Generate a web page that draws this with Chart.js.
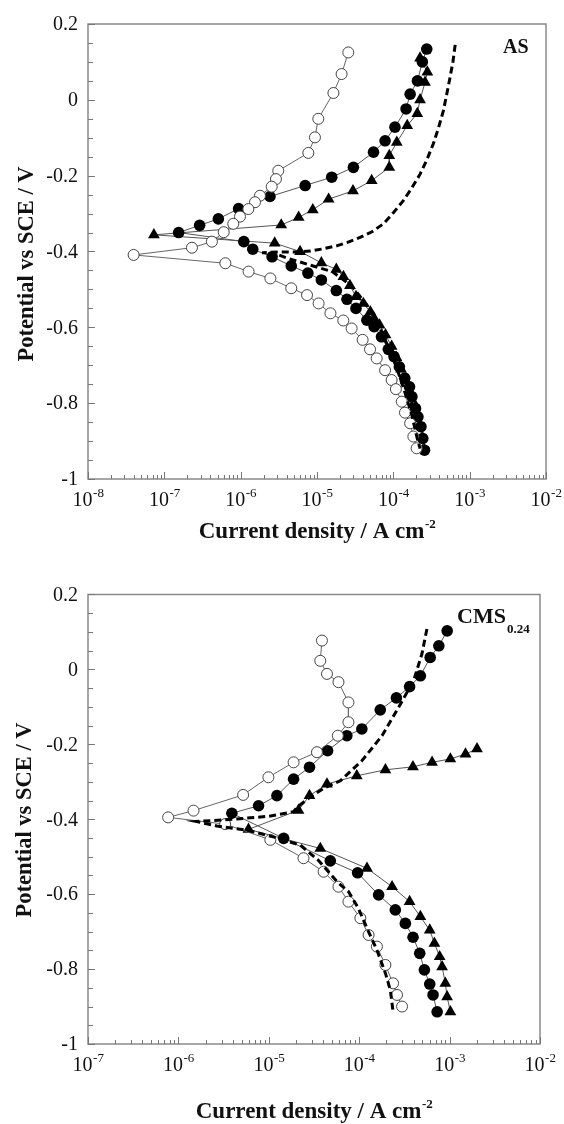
<!DOCTYPE html>
<html><head><meta charset="utf-8">
<script src="https://cdn.jsdelivr.net/npm/chart.js@4.4.1/dist/chart.umd.min.js"></script>
<style>
html,body{margin:0;padding:0;background:#fff;width:564px;height:1124px;overflow:hidden}
.wrap{position:absolute;left:0;width:564px;height:562px}
canvas{display:block}
</style></head><body>
<div class="wrap" style="top:0"><canvas id="c1" width="564" height="562"></canvas></div>
<div class="wrap" style="top:562px"><canvas id="c2" width="564" height="562"></canvas></div>
<script>
// ---------- DATA: [current density (A cm^-2), potential (V vs SCE)] ----------
// Panel 1: AS
const AS_OPEN = [[2.57e-5,0.125],[2.10e-5,0.068],[1.64e-5,0.018],[1.04e-5,-0.050],[9.4e-6,-0.099],[7.7e-6,-0.140],
 [3.11e-6,-0.187],[2.90e-6,-0.209],[2.55e-6,-0.229],[1.79e-6,-0.253],[1.54e-6,-0.270],[1.26e-6,-0.288],[9.8e-7,-0.308],
 [8.0e-7,-0.327],[6.0e-7,-0.349],[4.2e-7,-0.374],[2.30e-7,-0.390],[3.96e-8,-0.409],
 [6.3e-7,-0.431],[1.27e-6,-0.453],[2.45e-6,-0.471],[4.6e-6,-0.497],[7.4e-6,-0.515],[1.05e-5,-0.537],[1.50e-5,-0.563],
 [2.21e-5,-0.582],[2.84e-5,-0.603],[3.96e-5,-0.633],[4.95e-5,-0.658],[6.05e-5,-0.682],[7.8e-5,-0.713],[9.5e-5,-0.739],
 [1.08e-4,-0.763],[1.29e-4,-0.796],[1.42e-4,-0.825],[1.66e-4,-0.853],[1.83e-4,-0.888],[2.02e-4,-0.919]];
const AS_FILLED = [[2.74e-4,0.134],[2.40e-4,0.100],[2.07e-4,0.050],[1.66e-4,0.015],[1.47e-4,-0.024],[1.05e-4,-0.072],
 [7.8e-5,-0.108],[5.5e-5,-0.138],[3.0e-5,-0.178],[1.56e-5,-0.204],[7.0e-6,-0.226],[2.42e-6,-0.255],[9.4e-7,-0.287],
 [5.1e-7,-0.314],[2.9e-7,-0.331],[1.54e-7,-0.350],
 [1.10e-6,-0.374],[1.44e-6,-0.394],[2.58e-6,-0.414],[4.6e-6,-0.438],[7.6e-6,-0.457],[1.14e-5,-0.475],[1.79e-5,-0.503],
 [2.47e-5,-0.526],[3.24e-5,-0.550],[4.5e-5,-0.581],[5.6e-5,-0.598],[7.0e-5,-0.625],[8.6e-5,-0.658],[1.02e-4,-0.677],
 [1.20e-4,-0.704],[1.41e-4,-0.734],[1.63e-4,-0.757],[1.75e-4,-0.783],[1.95e-4,-0.814],[2.10e-4,-0.836],[2.30e-4,-0.862],
 [2.43e-4,-0.893],[2.56e-4,-0.924]];
const AS_TRI = [[2.24e-4,0.110],[2.79e-4,0.073],[2.60e-4,0.046],[2.24e-4,0.000],[2.06e-4,-0.036],[1.52e-4,-0.068],
 [1.11e-4,-0.112],[8.85e-5,-0.147],[8.85e-5,-0.178],[5.2e-5,-0.213],[2.96e-5,-0.240],[1.42e-5,-0.262],[8.8e-6,-0.290],
 [5.75e-6,-0.310],[3.40e-6,-0.330],[7.3e-8,-0.356],
 [2.79e-6,-0.378],[6.0e-6,-0.400],[1.14e-5,-0.430],[1.79e-5,-0.447],[2.22e-5,-0.466],[2.7e-5,-0.490],[3.24e-5,-0.519],
 [4.05e-5,-0.537],[5.0e-5,-0.559],[5.6e-5,-0.576],[6.6e-5,-0.594],[7.9e-5,-0.620],[9.5e-5,-0.650],[1.10e-4,-0.680],
 [1.26e-4,-0.710],[1.45e-4,-0.740],[1.66e-4,-0.770],[1.86e-4,-0.800],[2.04e-4,-0.830],[2.24e-4,-0.860],[2.40e-4,-0.890],
 [2.51e-4,-0.920]];
const AS_DASH = [[6.46e-4,0.145],[6.03e-4,0.100],[5.53e-4,0.059],[5.01e-4,0.015],[4.52e-4,-0.029],[3.89e-4,-0.075],
 [3.34e-4,-0.116],[2.75e-4,-0.158],[2.24e-4,-0.196],[1.74e-4,-0.233],[1.35e-4,-0.266],[1.0e-4,-0.298],[7.4e-5,-0.327],
 [5.25e-5,-0.348],[3.66e-5,-0.363],[2.51e-5,-0.376],[1.81e-5,-0.385],[1.20e-5,-0.393],[8.1e-6,-0.399],[5.0e-6,-0.401],
 [3.16e-6,-0.401],[1.91e-6,-0.403],
 [3.15e-6,-0.409],[4.15e-6,-0.418],[7.9e-6,-0.435],[1.58e-5,-0.453],[2.82e-5,-0.490],[4.47e-5,-0.540],[6.3e-5,-0.590],
 [8.5e-5,-0.650],[1.12e-4,-0.710],[1.41e-4,-0.770],[1.74e-4,-0.830],[2.04e-4,-0.890],[2.24e-4,-0.920]];

// Panel 2: CMS0.24
const CMS_OPEN = [[3.87e-5,0.077],[3.71e-5,0.023],[4.40e-5,-0.012],[5.9e-5,-0.034],[7.6e-5,-0.088],[7.6e-5,-0.141],
 [5.8e-5,-0.177],[3.41e-5,-0.221],[1.88e-5,-0.248],[9.9e-6,-0.288],[5.2e-6,-0.335],[1.47e-6,-0.377],[7.7e-7,-0.395],
 [3.29e-6,-0.413],[1.04e-5,-0.455],[2.42e-5,-0.504],[4.04e-5,-0.540],[5.9e-5,-0.580],[7.6e-5,-0.620],[1.03e-4,-0.664],
 [1.27e-4,-0.709],[1.57e-4,-0.740],[1.95e-4,-0.789],[2.37e-4,-0.838],[2.62e-4,-0.869],[2.98e-4,-0.900]];
const CMS_FILLED = [[9.4e-4,0.103],[7.6e-4,0.063],[6.1e-4,0.032],[4.75e-4,-0.017],[3.61e-4,-0.046],[2.58e-4,-0.076],
 [1.71e-4,-0.108],[1.07e-4,-0.159],[7.3e-5,-0.177],[4.47e-5,-0.217],[2.82e-5,-0.261],[1.88e-5,-0.293],[1.23e-5,-0.337],
 [7.7e-6,-0.364],[3.90e-6,-0.384],
 [1.46e-5,-0.451],[4.79e-5,-0.511],[9.6e-5,-0.543],[1.64e-4,-0.602],[2.51e-4,-0.642],[3.24e-4,-0.678],[3.94e-4,-0.715],
 [4.67e-4,-0.758],[5.26e-4,-0.802],[6.03e-4,-0.840],[6.56e-4,-0.869],[7.28e-4,-0.914]];
const CMS_TRI = [[2.01e-3,-0.212],[1.50e-3,-0.226],[1.02e-3,-0.239],[6.4e-4,-0.248],[3.93e-4,-0.260],[1.95e-4,-0.268],
 [9.4e-5,-0.284],[4.40e-5,-0.306],[2.82e-5,-0.337],[2.13e-5,-0.376],
 [5.96e-6,-0.427],[3.71e-5,-0.478],[1.22e-4,-0.531],[2.31e-4,-0.580],[3.61e-4,-0.620],[4.75e-4,-0.660],[6.03e-4,-0.696],
 [6.79e-4,-0.731],[7.76e-4,-0.767],[8.26e-4,-0.794],[8.97e-4,-0.838],[9.38e-4,-0.874],[1.02e-3,-0.914]];
const CMS_DASH = [[5.61e-4,0.108],[4.94e-4,0.041],[4.0e-4,-0.030],[2.73e-4,-0.101],[1.79e-4,-0.177],[1.07e-4,-0.244],
 [6.2e-5,-0.297],[4.21e-5,-0.315],[2.87e-5,-0.341],[2.05e-5,-0.368],[1.88e-5,-0.380],[1.0e-5,-0.392],[4.07e-6,-0.400],
 [1.58e-6,-0.406],
 [2.66e-6,-0.418],[5.7e-6,-0.429],[1.12e-5,-0.447],[2.23e-5,-0.469],[3.55e-5,-0.510],[5.7e-5,-0.567],[7.6e-5,-0.593],
 [9.8e-5,-0.638],[1.22e-4,-0.691],[1.57e-4,-0.749],[1.95e-4,-0.811],[2.21e-4,-0.856],[2.37e-4,-0.914]];

// Tick values / labels
const Y_TICKS = [0.2, 0, -0.2, -0.4, -0.6, -0.8, -1];
const Y_TICK_LABELS = ['0.2', '0', '-0.2', '-0.4', '-0.6', '-0.8', '-1'];
const AS_X_EXPONENTS = [-8, -7, -6, -5, -4, -3, -2];
const CMS_X_EXPONENTS = [-7, -6, -5, -4, -3, -2];
const X_TITLE = 'Current density / A cm';
const X_TITLE_SUP = '-2';
const Y_TITLE = 'Potential vs SCE / V';

// ---------- rendering ----------
const SERIF = '"Liberation Serif", "Times New Roman", serif';
const pts = arr => arr.map(p => ({x: p[0], y: p[1]}));

function seriesSets(open, filled, tri, dash) {
  return [
    {data: pts(dash), showLine: true, borderColor: '#000', borderWidth: 3, borderDash: [7, 4],
     pointRadius: 0, tension: 0},
    {data: pts(open), showLine: true, borderColor: '#666', borderWidth: 1, tension: 0,
     pointStyle: 'circle', pointRadius: 5.5, pointBackgroundColor: '#fff', pointBorderColor: '#444', pointBorderWidth: 1},
    {data: pts(filled), showLine: true, borderColor: '#555', borderWidth: 1, tension: 0,
     pointStyle: 'circle', pointRadius: 5.8, pointBackgroundColor: '#000', pointBorderColor: '#000', pointBorderWidth: 0},
    {data: pts(tri), showLine: true, borderColor: '#555', borderWidth: 1, tension: 0,
     pointStyle: 'triangle', pointRadius: 6.8, pointBackgroundColor: '#000', pointBorderColor: '#000', pointBorderWidth: 0}
  ];
}

function supText(ctx, base, sup, x, y, baseFont, supFont, supRise, align) {
  ctx.font = baseFont; const w1 = ctx.measureText(base).width;
  ctx.font = supFont; const w2 = ctx.measureText(sup).width;
  let x0 = x;
  if (align === 'center') x0 = x - (w1 + w2) / 2;
  ctx.textAlign = 'left'; ctx.textBaseline = 'alphabetic';
  ctx.font = baseFont; ctx.fillText(base, x0, y);
  ctx.font = supFont; ctx.fillText(sup, x0 + w1 + 0.5, y - supRise);
}

function axesPlugin(g) {
  return {
    id: 'axesDeco',
    afterDraw(chart) {
      const {ctx, chartArea: a, scales: {x, y}} = chart;
      ctx.save();
      // frame
      ctx.strokeStyle = '#8a8a8a'; ctx.lineWidth = 1.5;
      ctx.strokeRect(a.left, a.top, a.right - a.left, a.bottom - a.top);
      // y ticks (inward, every 0.05)
      ctx.strokeStyle = '#777'; ctx.lineWidth = 1;
      ctx.beginPath();
      for (let i = 0; i <= 24; i++) {
        const v = y.min + i * 0.05;
        const py = Math.round(y.getPixelForValue(v)) + 0.5;
        ctx.moveTo(a.left, py); ctx.lineTo(a.left + (i % 4 === 0 ? 7 : 5), py);
      }
      // x ticks (inward, log minor)
      const e0 = Math.round(Math.log10(x.min)), e1 = Math.round(Math.log10(x.max));
      for (let e = e0; e <= e1; e++) {
        for (let k = 1; k <= 9; k++) {
          if (e === e1 && k > 1) break;
          const px = Math.round(x.getPixelForValue(k * Math.pow(10, e))) + 0.5;
          ctx.moveTo(px, a.bottom); ctx.lineTo(px, a.bottom - (k === 1 ? 7 : 4));
        }
      }
      ctx.stroke();
      // y tick labels
      ctx.fillStyle = '#111';
      ctx.font = '20px ' + SERIF; ctx.textAlign = 'right'; ctx.textBaseline = 'middle';
      Y_TICKS.forEach((v, i) => ctx.fillText(Y_TICK_LABELS[i], a.left - 10, y.getPixelForValue(v) + 1));
      // x tick labels
      g.exps.forEach(e => {
        const px = x.getPixelForValue(Math.pow(10, e));
        supText(ctx, '10', String(e), px, a.bottom + 27, '20px ' + SERIF, '13px ' + SERIF, 9, 'center');
      });
      // x title
      supText(ctx, X_TITLE, X_TITLE_SUP, (a.left + a.right) / 2, g.xTitleY,
        'bold 23px ' + SERIF, 'bold 13px ' + SERIF, 10, 'center');
      // y title
      ctx.save();
      ctx.translate(g.yTitleX, g.yTitleY); ctx.rotate(-Math.PI / 2);
      ctx.font = 'bold 22.5px ' + SERIF; ctx.textAlign = 'center'; ctx.textBaseline = 'middle';
      ctx.fillText(Y_TITLE, 0, 0);
      ctx.restore();
      // panel label
      ctx.textAlign = 'left'; ctx.textBaseline = 'alphabetic';
      ctx.font = 'bold ' + g.labelSize + 'px ' + SERIF;
      ctx.fillText(g.label, g.labelX, g.labelY);
      if (g.sub) {
        const w = ctx.measureText(g.label).width;
        ctx.font = 'bold 13px ' + SERIF;
        ctx.fillText(g.sub, g.labelX + w + 1, g.labelY + 10);
      }
      ctx.restore();
    }
  };
}

function makeChart(id, datasets, g) {
  return new Chart(document.getElementById(id), {
    type: 'scatter',
    data: {datasets},
    options: {
      responsive: false, animation: false, devicePixelRatio: 1,
      layout: {padding: {top: g.top, right: g.right, left: 0, bottom: 0}},
      plugins: {legend: {display: false}, tooltip: {enabled: false}},
      elements: {line: {tension: 0}},
      scales: {
        x: {type: 'logarithmic', min: g.xmin, max: g.xmax,
            grid: {display: false}, border: {display: false}, ticks: {display: false},
            afterFit: s => { s.height = g.xAxisH; }},
        y: {type: 'linear', min: -1, max: 0.2,
            grid: {display: false}, border: {display: false}, ticks: {display: false},
            afterFit: s => { s.width = g.yAxisW; }}
      }
    },
    plugins: [axesPlugin(g)]
  });
}

makeChart('c1', seriesSets(AS_OPEN, AS_FILLED, AS_TRI, AS_DASH), {
  top: 24, right: 18, xAxisH: 83, yAxisW: 88, xmin: 1e-8, xmax: 1e-2, exps: AS_X_EXPONENTS,
  xTitleY: 538, yTitleX: 27, yTitleY: 264, label: 'AS', labelSize: 20, labelX: 503, labelY: 53
});
makeChart('c2', seriesSets(CMS_OPEN, CMS_FILLED, CMS_TRI, CMS_DASH), {
  top: 32.5, right: 24, xAxisH: 80, yAxisW: 88, xmin: 1e-7, xmax: 1e-2, exps: CMS_X_EXPONENTS,
  xTitleY: 556, yTitleX: 25, yTitleY: 258, label: 'CMS', sub: '0.24', labelSize: 22, labelX: 457, labelY: 61
});
</script></body></html>
